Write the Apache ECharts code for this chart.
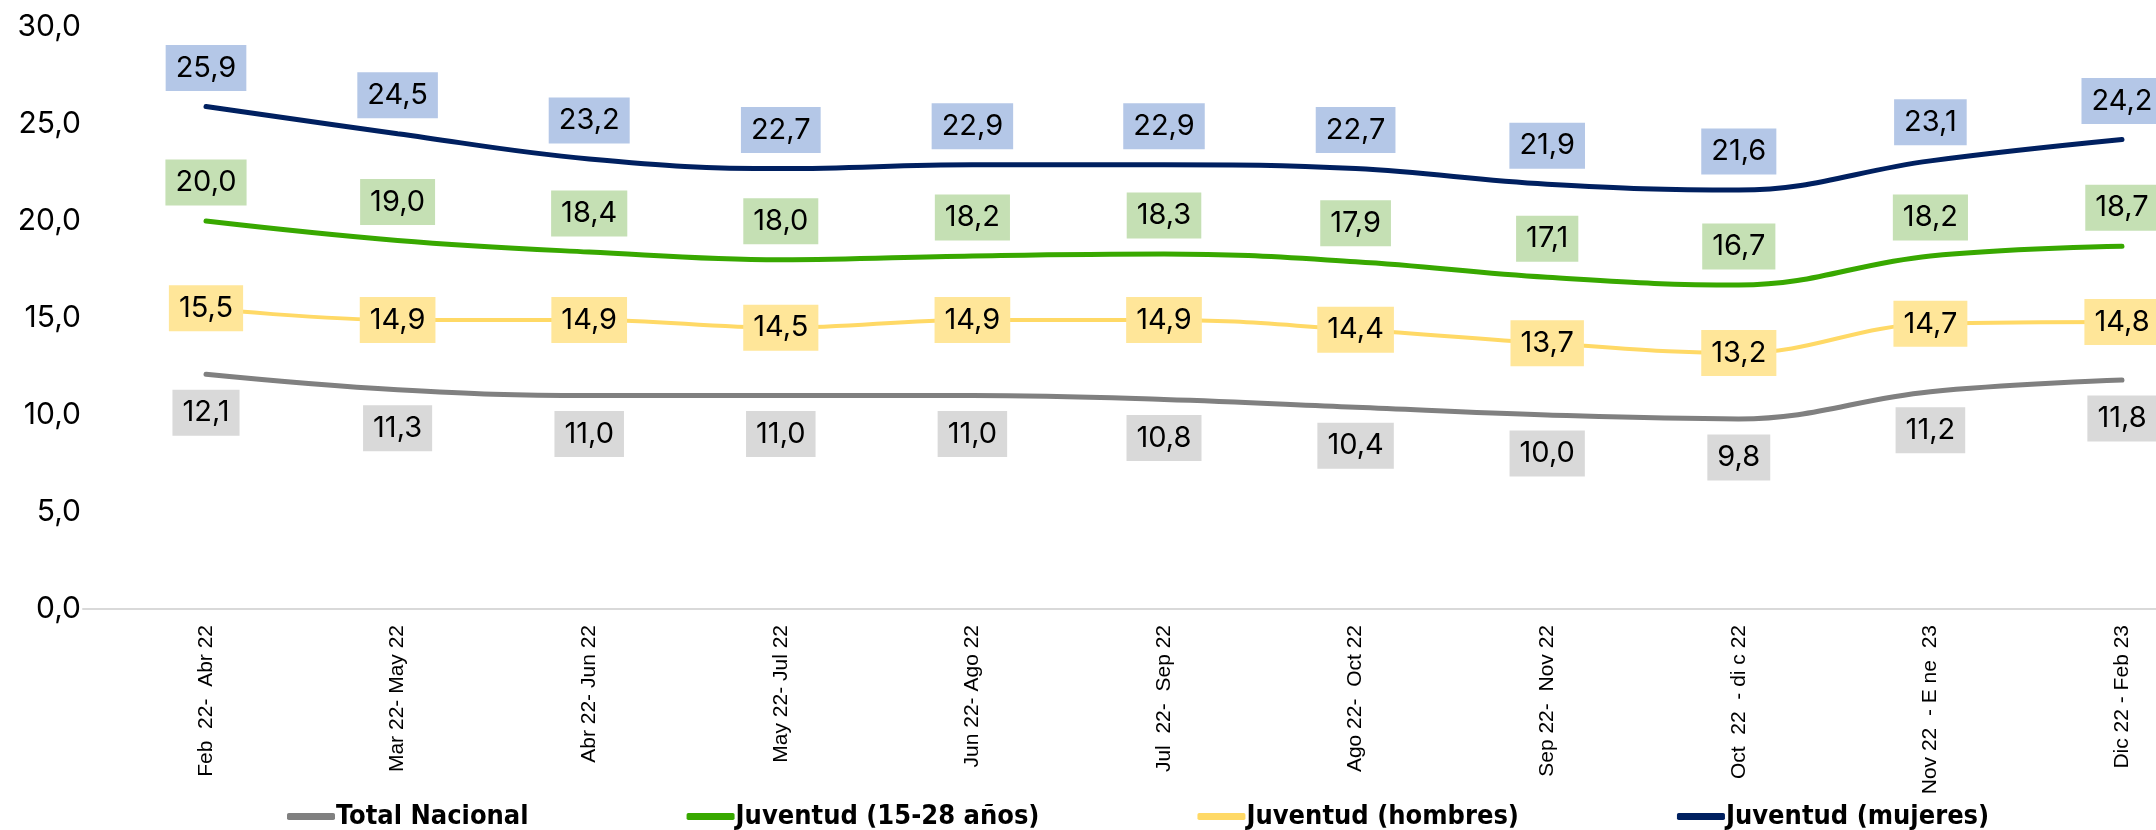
<!DOCTYPE html>
<html>
<head>
<meta charset="utf-8">
<script src="https://cdn.jsdelivr.net/npm/echarts@6/dist/echarts.min.js"></script>
<style>
html,body{margin:0;padding:0;background:#fff;}
#c{width:2156px;height:830px;}
</style>
</head>
<body>
<div id="c"></div>
<script>
var categories = ['Feb  22-  Abr 22','Mar 22- May 22','Abr 22- Jun 22','May 22- Jul 22','Jun 22- Ago 22','Jul  22-  Sep 22','Ago 22-  Oct 22','Sep 22-  Nov 22','Oct  22  - di c 22','Nov 22  - E ne  23','Dic 22 - Feb 23'];
var totalNacional = [12.1, 11.3, 11.0, 11.0, 11.0, 10.8, 10.4, 10.0, 9.8, 11.2, 11.8];
var juventud = [20.0, 19.0, 18.4, 18.0, 18.2, 18.3, 17.9, 17.1, 16.7, 18.2, 18.7];
var hombres = [15.5, 14.9, 14.9, 14.5, 14.9, 14.9, 14.4, 13.7, 13.2, 14.7, 14.8];
var mujeres = [25.9, 24.5, 23.2, 22.7, 22.9, 22.9, 22.7, 21.9, 21.6, 23.1, 24.2];
var seriesNames = ['Total Nacional', 'Juventud (15-28 años)', 'Juventud (hombres)', 'Juventud (mujeres)'];

var numFont = 'Inter, "Noto Sans", sans-serif';
function fmt(v){ return v.toFixed(1).replace('.', ','); }
function mk(name, data, color, bg, pos, width){
  return {
    name: name, type: 'line', data: data, xAxisIndex: 0, yAxisIndex: 0,
    smooth: 0.4, symbol: 'circle', symbolSize: 1, showSymbol: true,
    itemStyle: {color: color},
    lineStyle: {color: color, width: width, cap: 'round'},
    label: {
      show: true, position: pos, distance: 15,
      formatter: function(p){ return fmt(p.value); },
      fontFamily: numFont, fontSize: 29, lineHeight: 30, color: '#000',
      backgroundColor: bg, padding: [8, 10, 8, 10]
    },
    emphasis: {disabled: true}
  };
}

var chart = echarts.init(document.getElementById('c'), null, {renderer: 'canvas'});
chart.setOption({
  animation: false,
  backgroundColor: '#ffffff',
  grid: [
    {left: 206, right: 34, top: 27, bottom: 221},
    {left: 83, right: 0, top: 27, bottom: 221}
  ],
  legend: {
    top: 798, left: 282, itemGap: 158, itemWidth: 48, itemHeight: 7,
    icon: 'roundRect',
    textStyle: {fontFamily: '"Liberation Sans Narrow", "DejaVu Sans Condensed", sans-serif', fontWeight: 'bold', fontSize: 27, color: '#000', padding: [0,0,0,-4]},
    data: seriesNames
  },
  xAxis: [
    {
      type: 'category', data: categories, boundaryGap: false, gridIndex: 0,
      axisLine: {show: false}, axisTick: {show: false}, splitLine: {show: false},
      axisLabel: {rotate: 90, margin: 16, interval: 0, fontFamily: '"Liberation Sans", Arial, sans-serif', fontSize: 21, color: '#000'}
    },
    {
      type: 'value', gridIndex: 1, min: 0, max: 1,
      axisLine: {show: true, onZero: false, lineStyle: {color: '#d9d9d9', width: 2}},
      axisTick: {show: false}, axisLabel: {show: false}, splitLine: {show: false}
    }
  ],
  yAxis: [
    {
      type: 'value', min: 0, max: 30, interval: 5, gridIndex: 0,
      axisLine: {show: false}, axisTick: {show: false}, splitLine: {show: false},
      axisLabel: {margin: 125, formatter: function(v){ return fmt(v); }, fontFamily: numFont, fontSize: 30, color: '#000'}
    },
    {type: 'value', gridIndex: 1, min: 0, max: 1, show: false}
  ],
  series: [
    mk(seriesNames[0], totalNacional, '#808080', '#d9d9d9', 'bottom', 5),
    mk(seriesNames[1], juventud, '#38a800', '#c5e0b4', 'top', 5),
    mk(seriesNames[2], hombres, '#ffd966', '#ffe699', 'inside', 4),
    mk(seriesNames[3], mujeres, '#002060', '#b4c7e7', 'top', 5)
  ]
});
</script>
</body>
</html>
